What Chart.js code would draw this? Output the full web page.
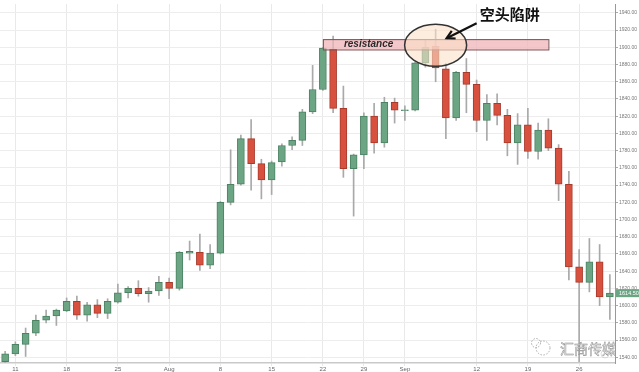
<!DOCTYPE html>
<html>
<head>
<meta charset="utf-8">
<script src="https://cdn.jsdelivr.net/npm/chart.js@4"></script>
<style>
  body { margin: 0; background: #fff; }
  #wrap { width: 639px; height: 372px; position: relative; }
</style>
</head>
<body>
<div id="wrap"><canvas id="myChart"></canvas></div>
<script>
'use strict';

// trading days, Jul 8 - Sep 29 (2011)
let days = ['07-08',
  '07-11', '07-12', '07-13', '07-14', '07-15',
  '07-18', '07-19', '07-20', '07-21', '07-22',
  '07-25', '07-26', '07-27', '07-28', '07-29',
  '08-01', '08-02', '08-03', '08-04', '08-05',
  '08-08', '08-09', '08-10', '08-11', '08-12',
  '08-15', '08-16', '08-17', '08-18', '08-19',
  '08-22', '08-23', '08-24', '08-25', '08-26',
  '08-29', '08-30', '08-31', '09-01', '09-02',
  '09-05', '09-06', '09-07', '09-08', '09-09',
  '09-12', '09-13', '09-14', '09-15', '09-16',
  '09-19', '09-20', '09-21', '09-22', '09-23',
  '09-26', '09-27', '09-28', '09-29'];

let opens = [1535,
  1544, 1555, 1568, 1583, 1588,
  1594, 1605, 1589, 1601, 1591,
  1604, 1615, 1620, 1614, 1617,
  1627, 1620, 1661, 1662, 1647,
  1661, 1720, 1741, 1794, 1765,
  1746, 1767, 1786, 1792, 1825,
  1851, 1898, 1829, 1759, 1775,
  1820, 1789, 1836, 1826.5, 1827,
  1882, 1901, 1875, 1818, 1871,
  1857, 1815, 1835, 1821, 1789,
  1810, 1779, 1804, 1783, 1741,
  1645, 1627, 1651, 1610];
let highs = [1547,
  1558, 1574, 1589, 1595, 1596,
  1609, 1611, 1604, 1607, 1608,
  1625, 1622, 1629, 1621, 1634,
  1632, 1663, 1675, 1683, 1671,
  1721, 1781, 1798, 1816, 1770,
  1768, 1788, 1796, 1828, 1879,
  1900, 1913, 1855, 1776, 1824,
  1835, 1842, 1841, 1832, 1883,
  1908, 1921, 1881, 1872, 1887,
  1862, 1845, 1846, 1828, 1823,
  1829, 1812, 1817, 1787, 1756,
  1665, 1678, 1671, 1636];
let lows = [1534,
  1542, 1541, 1565, 1580, 1577,
  1593, 1584, 1582, 1586, 1585,
  1603, 1609, 1611, 1604, 1612,
  1608, 1618, 1653, 1641, 1643,
  1660, 1717, 1740, 1734, 1724,
  1729, 1762, 1781, 1786, 1823,
  1850, 1824, 1749, 1704, 1759,
  1777, 1784, 1812, 1815, 1826,
  1877, 1860, 1794, 1815, 1824,
  1802, 1792, 1810, 1774, 1764,
  1771, 1770, 1780, 1722, 1630,
  1535, 1616, 1600, 1584];
let closes = [1544,
  1555, 1568, 1583, 1588, 1595,
  1605, 1589, 1601, 1591, 1605,
  1615, 1620, 1614, 1617, 1627,
  1620, 1662, 1663, 1647, 1661,
  1720, 1741, 1794, 1765, 1746,
  1766, 1786, 1792, 1825, 1851,
  1899, 1829, 1759, 1775, 1820,
  1789, 1836, 1827, 1827.5, 1882,
  1900, 1876, 1818, 1871, 1857,
  1815, 1835, 1821, 1789, 1810,
  1779, 1804, 1783, 1741, 1645,
  1627, 1651, 1610, 1614.5];

// x tick labels sit on these candles
let tickIndex = [1, 6, 11, 16, 21, 26, 31, 35, 39, 46, 51, 56];
let tickText = ['11', '18', '25', 'Aug', '8', '15', '22', '29', 'Sep', '12', '19', '26'];

let yTicks = [1540, 1560, 1580, 1600, 1620, 1640, 1660, 1680, 1700, 1720, 1740,
  1760, 1780, 1800, 1820, 1840, 1860, 1880, 1900, 1920, 1940];

// resistance zone: candle range and price band
let zoneFrom = 31;
let zoneTo = 53;
let zoneLow = 1897.5;
let zoneHigh = 1909.5;
let trapIndex = 42;
let trapPrice = 1902.5;

let upFill = '#6ba583';
let upLine = '#4a8262';
let downFill = '#d8513f';
let downLine = '#a83a2c';

let bodyColors = [];
let bodyBorders = [];
for (let i = 0; i < opens.length; i++) {
  let up = closes[i] >= opens[i];
  bodyColors.push(up ? upFill : downFill);
  bodyBorders.push(up ? upLine : downLine);
}

let annotations = {
  id: 'annotations',
  afterDatasetsDraw(chart) {
    let ctx = chart.ctx;
    let x = chart.scales.x;
    let y = chart.scales.y;
    ctx.save();

    // resistance box
    let bx1 = x.getPixelForValue(zoneFrom);
    let bx2 = x.getPixelForValue(zoneTo);
    let by1 = y.getPixelForValue(zoneHigh);
    let by2 = y.getPixelForValue(zoneLow);
    ctx.fillStyle = 'rgba(240, 180, 185, 0.75)';
    ctx.fillRect(bx1, by1, bx2 - bx1, by2 - by1);
    ctx.strokeStyle = '#7a5050';
    ctx.lineWidth = 1;
    ctx.strokeRect(bx1 + 0.5, by1 + 0.5, bx2 - bx1, by2 - by1);
    ctx.fillStyle = '#2a2a2a';
    ctx.font = 'italic bold 10px "Liberation Sans"';
    ctx.textAlign = 'left';
    ctx.textBaseline = 'middle';
    ctx.fillText('resistance', bx1 + 21, (by1 + by2) / 2);

    // trap ellipse
    let ex = x.getPixelForValue(trapIndex);
    let ey = y.getPixelForValue(trapPrice);
    ctx.beginPath();
    ctx.ellipse(ex, ey, 31, 21, 0, 0, Math.PI * 2);
    ctx.fillStyle = 'rgba(250, 225, 200, 0.6)';
    ctx.fill();
    ctx.strokeStyle = '#333';
    ctx.lineWidth = 1.5;
    ctx.stroke();

    // arrow
    let tipX = ex + 11;
    let tipY = ey - 7;
    let tailX = ex + 41;
    let tailY = ey - 22;
    ctx.beginPath();
    ctx.moveTo(tailX, tailY);
    ctx.lineTo(tipX, tipY);
    ctx.strokeStyle = '#111';
    ctx.lineWidth = 2.2;
    ctx.stroke();
    let ang = Math.atan2(tipY - tailY, tipX - tailX);
    ctx.beginPath();
    ctx.moveTo(tipX - 9 * Math.cos(ang - 0.5), tipY - 9 * Math.sin(ang - 0.5));
    ctx.lineTo(tipX, tipY);
    ctx.lineTo(tipX - 9 * Math.cos(ang + 0.5), tipY - 9 * Math.sin(ang + 0.5));
    ctx.stroke();

    ctx.fillStyle = '#111';
    ctx.font = 'bold 15px "Noto Sans CJK SC"';
    ctx.textBaseline = 'middle';
    ctx.fillText('空头陷阱', tailX + 3, 14);

    ctx.restore();
  },
  afterDraw(chart) {
    let ctx = chart.ctx;
    let y = chart.scales.y;
    let area = chart.chartArea;
    ctx.save();

    // last price tag
    let last = closes[closes.length - 1];
    let py = y.getPixelForValue(last);
    ctx.fillStyle = upFill;
    ctx.fillRect(area.right + 1, py - 4, 639 - area.right, 8);
    ctx.fillStyle = '#fff';
    ctx.font = '5.5px "Liberation Sans"';
    ctx.textAlign = 'left';
    ctx.textBaseline = 'middle';
    ctx.fillText(last.toFixed(2), area.right + 4, py);

    // watermark
    ctx.setLineDash([1.5, 1.5]);
    ctx.strokeStyle = '#999';
    ctx.lineWidth = 0.8;
    ctx.beginPath();
    ctx.arc(543, 348, 7, 0, Math.PI * 2);
    ctx.stroke();
    ctx.beginPath();
    ctx.arc(536, 343, 4.5, 0, Math.PI * 2);
    ctx.stroke();
    ctx.setLineDash([]);
    ctx.font = '14px "Noto Sans CJK SC"';
    ctx.textBaseline = 'middle';
    ctx.fillStyle = 'rgba(255, 255, 255, 0.85)';
    ctx.fillText('汇商传媒', 560, 349);
    ctx.strokeStyle = '#8a8a8a';
    ctx.lineWidth = 0.5;
    ctx.strokeText('汇商传媒', 560, 349);
    ctx.beginPath();
    ctx.arc(605, 354, 4, 0, Math.PI * 2);
    ctx.strokeStyle = '#bbb';
    ctx.stroke();
    ctx.restore();
  }
};

function gridAtTicks(c) {
  return tickIndex.includes(c.index) ? '#e9e9e9' : 'rgba(0,0,0,0)';
}

let chartObject = {
  type: 'bar',
  data: {
    labels: days,
    datasets: [{
      label: 'body',
      data: opens.map((o, i) => [o, closes[i]]),
      backgroundColor: bodyColors,
      borderColor: bodyBorders,
      borderWidth: 1,
      borderSkipped: false,
      barThickness: 7,
      grouped: false,
      order: 0
    },
    {
      label: 'wick',
      data: lows.map((l, i) => [l, highs[i]]),
      backgroundColor: '#a9a9a9',
      borderWidth: 0,
      barThickness: 1,
      grouped: false,
      order: 1
    }]
  },
  options: {
    responsive: true,
    maintainAspectRatio: false,
    animation: false,
    layout: { padding: 0 },
    plugins: {
      legend: { display: false },
      tooltip: { enabled: false }
    },
    scales: {
      x: {
        type: 'category',
        offset: true,
        grid: {
          offset: false,
          color: gridAtTicks,
          tickColor: gridAtTicks,
          tickLength: 3
        },
        border: { color: '#c9c9c9', width: 1.5 },
        ticks: {
          autoSkip: false,
          maxRotation: 0,
          padding: 0,
          color: '#666',
          font: { size: 6, family: 'Liberation Sans' },
          callback: function (val, i) {
            let k = tickIndex.indexOf(i);
            return k >= 0 ? tickText[k] : '';
          }
        },
        afterFit: function (scale) { scale.height = 9; }
      },
      y: {
        position: 'right',
        min: 1533.4,
        max: 1950.3,
        afterBuildTicks: function (scale) {
          scale.ticks = yTicks.map(v => ({ value: v }));
        },
        grid: {
          color: '#ededed',
          tickColor: '#aaa',
          tickLength: 3
        },
        border: { color: '#999', width: 1 },
        ticks: {
          padding: 1,
          color: '#777',
          font: { size: 5, family: 'Liberation Sans' },
          callback: v => v.toFixed(2)
        },
        afterFit: function (scale) { scale.width = 24; }
      }
    }
  },
  plugins: [annotations]
};

let ctx = document.getElementById('myChart').getContext('2d');
let myChart = new Chart(ctx, chartObject);
</script>
</body>
</html>
